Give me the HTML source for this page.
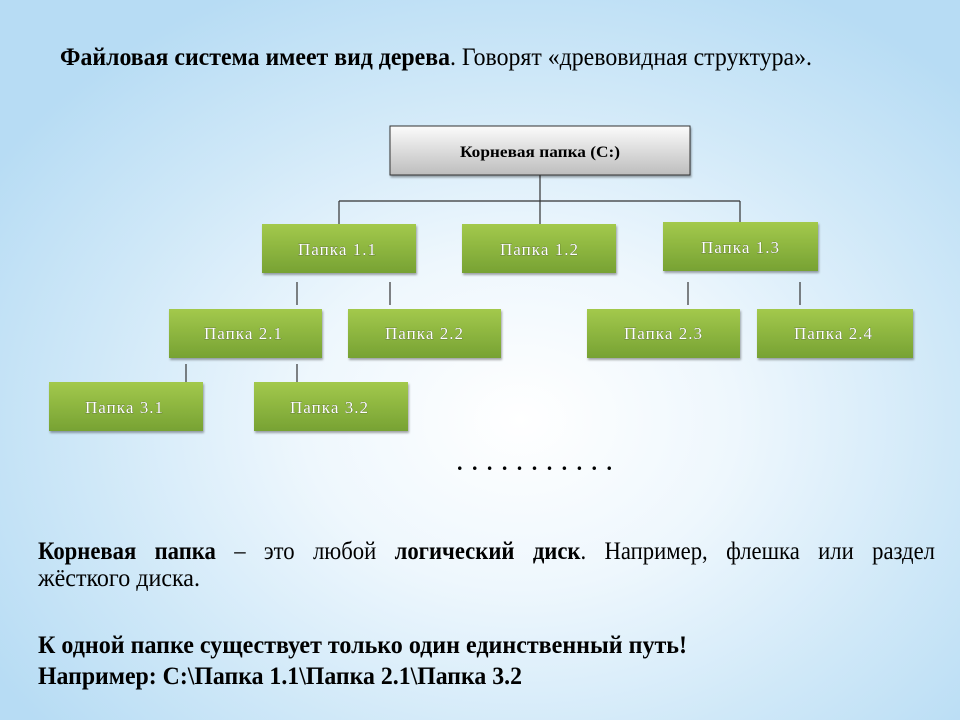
<!DOCTYPE html>
<html><head><meta charset="utf-8"><style>
html,body{margin:0;padding:0;width:960px;height:720px;overflow:hidden}
body{background:radial-gradient(ellipse 620px 480px at 520px 420px,#ffffff 0%,#eef7fd 35%,#cfe8f8 70%,#b7dcf4 100%)}
svg{position:absolute;left:0;top:0}
</style></head><body>
<svg width="960" height="720" viewBox="0 0 960 720" xmlns="http://www.w3.org/2000/svg">
<defs>
<linearGradient id="g" x1="0" y1="0" x2="0" y2="1"><stop offset="0" stop-color="#a3c94c"/><stop offset="1" stop-color="#77a233"/></linearGradient>
<linearGradient id="gr" x1="0" y1="0" x2="0" y2="1"><stop offset="0" stop-color="#fbfbfb"/><stop offset="1" stop-color="#bdbdbd"/></linearGradient>
<filter id="sh" x="-10%" y="-10%" width="130%" height="140%"><feDropShadow dx="1" dy="2" stdDeviation="1" flood-color="#000" flood-opacity="0.35"/></filter>
</defs>
<g font-family="Liberation Serif, serif" font-size="25" fill="#000">
<text x="60" y="65" textLength="752" lengthAdjust="spacingAndGlyphs"><tspan font-weight="bold">Файловая система имеет вид дерева</tspan>. Говорят «древовидная структура».</text>
<text x="38" y="559" word-spacing="14" textLength="897" lengthAdjust="spacingAndGlyphs"><tspan font-weight="bold">Корневая папка</tspan> – это любой <tspan font-weight="bold">логический диск</tspan>. Например, флешка или раздел</text>
<text x="38" y="586" textLength="162" lengthAdjust="spacingAndGlyphs">жёсткого диска.</text>
<text x="38" y="653" font-weight="bold" textLength="649" lengthAdjust="spacingAndGlyphs">К одной папке существует только один единственный путь!</text>
<text x="38" y="684" font-weight="bold" textLength="484" lengthAdjust="spacingAndGlyphs">Например: C:\Папка 1.1\Папка 2.1\Папка 3.2</text>
</g>
<g stroke="#333" stroke-width="1.2" fill="none">
<path d="M540 175V224M339 201H740M339 201V224M740 201V222"/>
<path d="M297 282V305M390 282V305M688 282V305M800 282V305M186 364V382M297 364V382"/>
</g>
<rect x="390" y="126" width="300" height="49" fill="url(#gr)" stroke="#333" stroke-width="1" filter="url(#sh)"/>
<text x="540" y="157" text-anchor="middle" font-family="Liberation Serif, serif" font-size="16" font-weight="bold" textLength="160" lengthAdjust="spacingAndGlyphs">Корневая папка (C:)</text>
<g filter="url(#sh)" fill="url(#g)">
<rect x="262" y="224" width="154" height="49"/>
<rect x="462" y="224" width="154" height="49"/>
<rect x="663" y="222" width="155" height="49"/>
<rect x="169" y="309" width="153" height="49"/>
<rect x="348" y="309" width="153" height="49"/>
<rect x="587" y="309" width="153" height="49"/>
<rect x="757" y="309" width="156" height="49"/>
<rect x="49" y="382" width="154" height="49"/>
<rect x="254" y="382" width="154" height="49"/>
</g>
<g font-family="Liberation Serif, serif" font-size="17" fill="#fff" text-anchor="middle" stroke="#4a5a2a" stroke-width="0.5" paint-order="stroke">
<text x="337" y="255" textLength="78">Папка 1.1</text>
<text x="539" y="255" textLength="78">Папка 1.2</text>
<text x="740" y="253" textLength="78">Папка 1.3</text>
<text x="243" y="339" textLength="78">Папка 2.1</text>
<text x="424" y="339" textLength="78">Папка 2.2</text>
<text x="663" y="339" textLength="78">Папка 2.3</text>
<text x="833" y="339" textLength="78">Папка 2.4</text>
<text x="124" y="413" textLength="78">Папка 3.1</text>
<text x="329" y="413" textLength="78">Папка 3.2</text>
</g>
<text x="457" y="470" font-family="Liberation Serif, serif" font-size="22" font-weight="bold" textLength="155" lengthAdjust="spacing">. . . . . . . . . . .</text>
</svg>
</body></html>
